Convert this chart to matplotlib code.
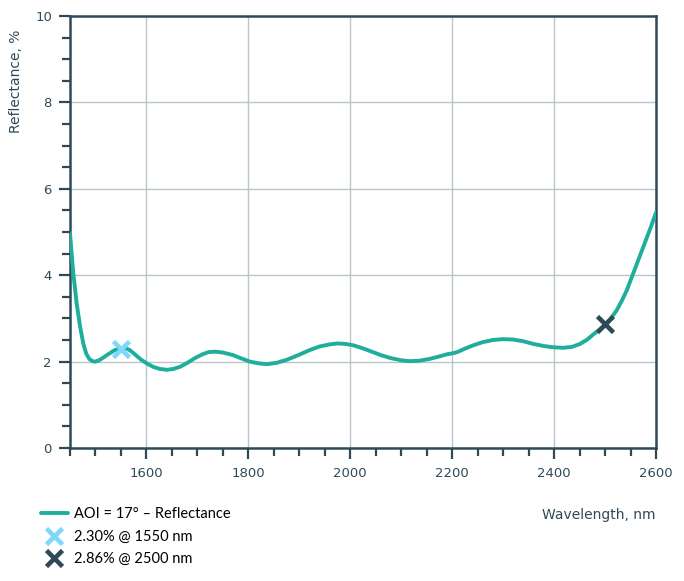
import numpy as np
import matplotlib
matplotlib.use("Agg")
import matplotlib.pyplot as plt
from matplotlib.ticker import MultipleLocator

# reflectance curve
wavelength = [1450, 1456, 1463, 1470, 1476, 1482, 1488, 1494, 1500, 1507, 1515, 1525,
              1537, 1548, 1558, 1568, 1578, 1590, 1602, 1613, 1626, 1640, 1653, 1666,
              1680, 1695, 1710, 1722, 1735, 1750, 1770, 1787, 1803, 1820, 1836, 1855,
              1875, 1898, 1921, 1940, 1960, 1975, 1990, 2005, 2019, 2040, 2060, 2080,
              2100, 2117, 2135, 2155, 2175, 2190, 2200, 2210, 2225, 2242, 2260, 2280,
              2300, 2320, 2340, 2359, 2380, 2400, 2418, 2435, 2451, 2465, 2477, 2490,
              2500, 2512, 2523, 2533, 2543, 2553, 2562, 2572, 2582, 2590, 2600]
reflectance = [4.97, 4.10, 3.35, 2.80, 2.42, 2.18, 2.06, 2.01, 2.00, 2.03, 2.09, 2.17,
               2.26, 2.31, 2.32, 2.26, 2.16, 2.04, 1.95, 1.88, 1.83, 1.81, 1.83, 1.88,
               1.97, 2.08, 2.17, 2.22, 2.23, 2.21, 2.15, 2.07, 2.00, 1.96, 1.94, 1.97,
               2.04, 2.15, 2.27, 2.35, 2.40, 2.42, 2.41, 2.38, 2.33, 2.24, 2.15, 2.08,
               2.03, 2.01, 2.02, 2.06, 2.12, 2.17, 2.19, 2.22, 2.30, 2.38, 2.45, 2.50,
               2.52, 2.51, 2.47, 2.41, 2.36, 2.33, 2.32, 2.34, 2.41, 2.51, 2.63, 2.75,
               2.85, 3.01, 3.19, 3.41, 3.66, 3.97, 4.25, 4.56, 4.87, 5.12, 5.45]

marker_x = [1550, 2500]
marker_y = [2.30, 2.86]
marker_labels = ["2.30% @ 1550 nm", "2.86% @ 2500 nm"]
marker_colors = ["#7dd8fb", "#2e4a59"]

line_label = "AOI = 17° – Reflectance"

dark = "#2e4a59"
teal = "#1fae9c"
grid_c = "#b9c5c8"

W, H = 684, 581
fig = plt.figure(figsize=(W / 100, H / 100), dpi=100)
ax = fig.add_axes([70 / W, 1 - 448 / H, (656 - 70) / W, (448 - 16) / H])

ax.plot(wavelength, reflectance, color=teal, lw=2.8, label=line_label,
        solid_capstyle="round", solid_joinstyle="round", zorder=3)
for mx, my, ml, mc in zip(marker_x, marker_y, marker_labels, marker_colors):
    ax.plot([mx], [my], linestyle="none", marker="x", ms=12, mew=3.3,
            color=mc, label=ml, zorder=4)

ax.set_xlim(1450, 2600)
ax.set_ylim(0, 10)
ax.xaxis.set_major_locator(MultipleLocator(200))
ax.xaxis.set_minor_locator(MultipleLocator(50))
ax.yaxis.set_major_locator(MultipleLocator(2))
ax.yaxis.set_minor_locator(MultipleLocator(0.5))

ax.grid(True, which="major", color=grid_c, lw=1.0)
ax.set_axisbelow(True)

for s in ax.spines.values():
    s.set_color(dark)
    s.set_linewidth(1.8)

ax.tick_params(which="major", direction="out", length=8, width=1.6, color=dark,
               labelcolor=dark, labelsize=9.5, pad=5)
ax.tick_params(which="minor", direction="out", length=6, width=1.6, color=dark)
ax.tick_params(axis="x", which="major", pad=6)

fig.text(16 / W, 1 - 30 / H, "Reflectance, %", rotation=90, ha="center", va="top",
         color=dark, fontsize=10)
fig.text(656 / W, 1 - 515 / H, "Wavelength, nm", ha="right", va="center",
         color=dark, fontsize=10)

handles, labels = ax.get_legend_handles_labels()
fig.legend(handles, labels, loc="upper left", bbox_to_anchor=(34 / W, 1 - 500 / H),
           frameon=False, handlelength=1.8, handletextpad=0.45,
           labelspacing=0.58, borderpad=0, prop={"family": "Lato", "size": 10.5})

fig.savefig("out.png", dpi=100)
